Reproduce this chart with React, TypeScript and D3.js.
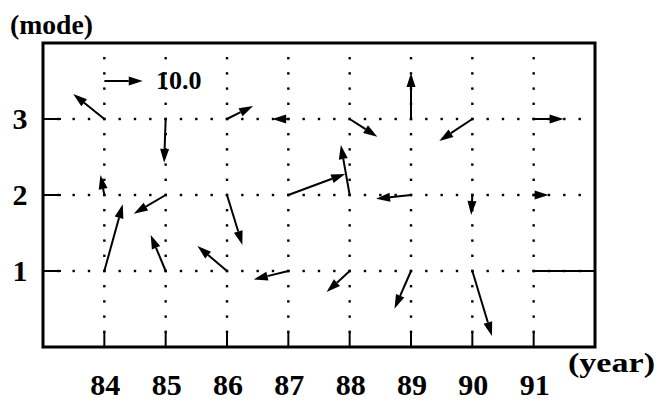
import * as d3 from 'd3';

const W = 667;
const H = 404;
const BOX = { left: 43, right: 595, top: 43, bottom: 347 };

const years = [84, 85, 86, 87, 88, 89, 90, 91];
const modes = [1, 2, 3];
const yearLabels = ['84', '85', '86', '87', '88', '89', '90', '91'];
const modeLabels = ['1', '2', '3'];

// vector components, one per year (10.0 = length of the reference arrow)
const uMode1 = [4.8, -3.9, -7.7, -9.0, -6.0, -4.3, 5.1, 20.0];
const vMode1 = [17.4, 9.4, 6.5, -2.2, -5.5, -9.8, -16.9, 0];
const uMode2 = [-1.0, -8.3, 4.0, 14.8, -2.3, -9.1, -0.3, 3.9];
const vMode2 = [5.2, -4.9, -13.0, 5.5, 13.0, -1.0, -5.2, 0];
const uMode3 = [-8.1, -0.4, 6.8, -4.2, 7.2, 0, -8.6, 7.8];
const vMode3 = [6.5, -11.4, 3.4, 0, -4.6, 12.0, -5.7, 0];

const refArrow = { year: 84, mode: 3.5, u: 10, v: 0, label: '10.0' };

const FONT = '"Liberation Serif", "Times New Roman", serif';

type Vec = { year: number; mode: number; u: number; v: number };

const vectors: Vec[] = [
  ...years.map((yr, i) => ({ year: yr, mode: 1, u: uMode1[i], v: vMode1[i] })),
  ...years.map((yr, i) => ({ year: yr, mode: 2, u: uMode2[i], v: vMode2[i] })),
  ...years.map((yr, i) => ({ year: yr, mode: 3, u: uMode3[i], v: vMode3[i] })),
];

const x = d3.scaleLinear().domain([83, 92]).range([BOX.left, BOX.right]);
const y = d3.scaleLinear().domain([0, 4]).range([BOX.bottom, BOX.top]);
const vs = d3.scaleLinear().domain([0, 10]).range([0, 38.4]);

function Arrow({ d }: { d: Vec }) {
  const x0 = x(d.year);
  const y0 = y(d.mode);
  const dx = vs(d.u);
  const dy = -vs(d.v);
  const len = Math.hypot(dx, dy);
  if (len === 0) return null;
  const ux = dx / len;
  const uy = dy / len;
  const h = Math.min(14, len);
  const tx = x0 + dx;
  const ty = y0 + dy;
  const bx = tx - h * ux;
  const by = ty - h * uy;
  const hw = 4.5;
  const head = d3.path();
  head.moveTo(tx, ty);
  head.lineTo(bx - uy * hw, by + ux * hw);
  head.lineTo(bx + uy * hw, by - ux * hw);
  head.closePath();
  return (
    <g>
      {len > h && <line x1={x0} y1={y0} x2={bx} y2={by} stroke="#000" strokeWidth={2} />}
      <path d={head.toString()} fill="#000" />
    </g>
  );
}

export default function App() {
  const hDots = d3.range(1, 36).map(k => 83 + k / 4);
  const vDots = d3.range(1, 20).map(k => k / 5);

  return (
    <svg width={W} height={H} style={{ position: 'absolute', left: 0, top: 0, background: '#fff' }}>
      <defs>
        <clipPath id="plot">
          <rect x={BOX.left} y={BOX.top} width={BOX.right - BOX.left} height={BOX.bottom - BOX.top} />
        </clipPath>
      </defs>

      {/* dotted grid */}
      <g fill="#000">
        {modes.map(m => hDots.map(v => (
          <rect key={`h${m}-${v}`} x={x(v) - 1.2} y={y(m) - 1.2} width={2.4} height={2.4} />
        )))}
        {years.map(yr => vDots.map(v => (
          <rect key={`v${yr}-${v}`} x={x(yr) - 1.2} y={y(v) - 1.2} width={2.4} height={2.4} />
        )))}
      </g>

      {/* ticks */}
      <g stroke="#000" strokeWidth={2}>
        {years.map(yr => (
          <line key={yr} x1={x(yr)} x2={x(yr)} y1={BOX.bottom} y2={BOX.bottom - 15} />
        ))}
        {modes.map(m => (
          <line key={m} x1={BOX.left} x2={BOX.left + 18} y1={y(m)} y2={y(m)} />
        ))}
      </g>

      {/* vectors */}
      <g clipPath="url(#plot)">
        {vectors.map((d, i) => <Arrow key={i} d={d} />)}
        <Arrow d={refArrow} />
      </g>

      {/* frame */}
      <rect x={BOX.left} y={BOX.top} width={BOX.right - BOX.left} height={BOX.bottom - BOX.top}
        fill="none" stroke="#000" strokeWidth={3} />

      <g fontFamily={FONT} fontWeight="bold" fill="#000">
        <text x={156} y={89} fontSize={26}>{refArrow.label}</text>
        {years.map((yr, i) => (
          <text key={yr} x={x(yr) + 1} y={395} fontSize={30} textAnchor="middle">{yearLabels[i]}</text>
        ))}
        {modes.map((m, i) => (
          <text key={m} x={20} y={y(m) + 10} fontSize={30} textAnchor="middle">{modeLabels[i]}</text>
        ))}
        <text x={568} y={372} fontSize={28} textLength={87} lengthAdjust="spacingAndGlyphs">(year)</text>
        <text x={10} y={34} fontSize={28} textLength={83} lengthAdjust="spacingAndGlyphs">(mode)</text>
      </g>
    </svg>
  );
}
